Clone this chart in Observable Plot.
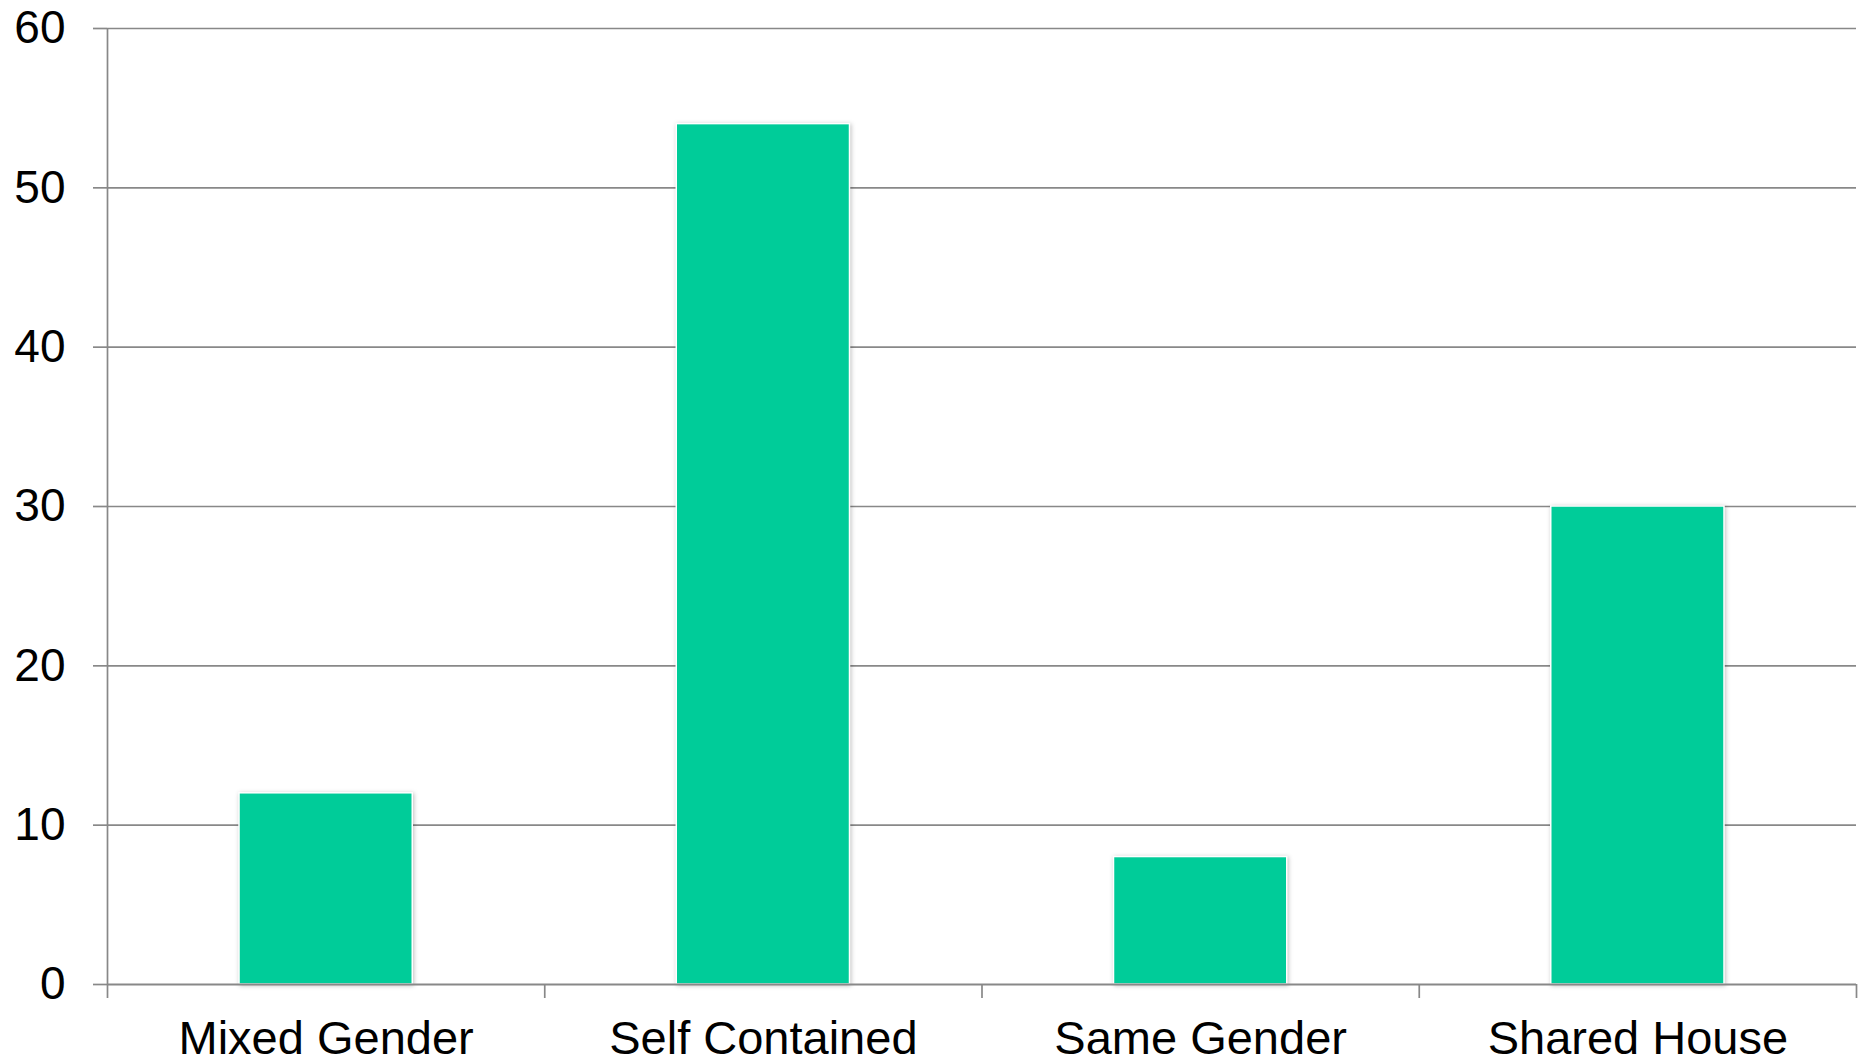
<!DOCTYPE html>
<html>
<head>
<meta charset="utf-8">
<script src="https://cdn.jsdelivr.net/npm/d3@7"></script>
<script src="https://cdn.jsdelivr.net/npm/@observablehq/plot@0.6"></script>
<style>
  html, body { margin: 0; padding: 0; background: #fff; }
  #chart svg { display: block; }
  g[aria-label="rect"] rect { filter: drop-shadow(1px 1px 2px rgba(0,0,0,0.25)); }
</style>
</head>
<body>
<div id="chart"></div>
<script>
const categories = ["Mixed Gender", "Self Contained", "Same Gender", "Shared House"];
const values = [12, 54, 8, 30];
const yTicks = [0, 10, 20, 30, 40, 50, 60];

const data = categories.map((c, i) => ({category: c, index: i, value: values[i]}));
const boundaries = d3.range(categories.length + 1);
const centers = categories.map((c, i) => i + 0.5);

const chart = Plot.plot({
  width: 1863,
  height: 1064,
  marginLeft: 107,
  marginRight: 7,
  marginTop: 28,
  marginBottom: 80,
  style: {fontFamily: "'Liberation Sans', Arial, sans-serif", fontSize: "46px", color: "#000", background: "#fff"},
  x: {type: "linear", domain: [0, categories.length]},
  y: {domain: [0, 60]},
  marks: [
    Plot.axisY({ticks: yTicks, tickSize: 14, tickPadding: 28, tickFormat: d => String(d), label: null, stroke: "#888888", strokeWidth: 1.7, fontSize: 46}),
    Plot.gridY(yTicks.filter(t => t > 0), {stroke: "#888888", strokeOpacity: 1, strokeWidth: 1.7}),
    Plot.ruleX([0], {stroke: "#888888", strokeWidth: 1.7}),
    Plot.rectY(data, {x1: "index", x2: d => d.index + 1, y: "value", fill: "#00cc99", stroke: "#ffffff", strokeWidth: 1.5, insetLeft: 132, insetRight: 132}),
    Plot.ruleY([0], {x1: 0, x2: categories.length, stroke: "#888888", strokeWidth: 2}),
    Plot.axisX({ticks: boundaries, tickSize: 14, tickFormat: () => "", label: null, stroke: "#888888", strokeWidth: 1.7}),
    Plot.axisX({ticks: centers, tickSize: 0, tickPadding: 36, tickFormat: d => categories[Math.floor(d)], label: null, fill: "#000", fontSize: 47})
  ]
});

document.getElementById("chart").appendChild(chart);
</script>
</body>
</html>
